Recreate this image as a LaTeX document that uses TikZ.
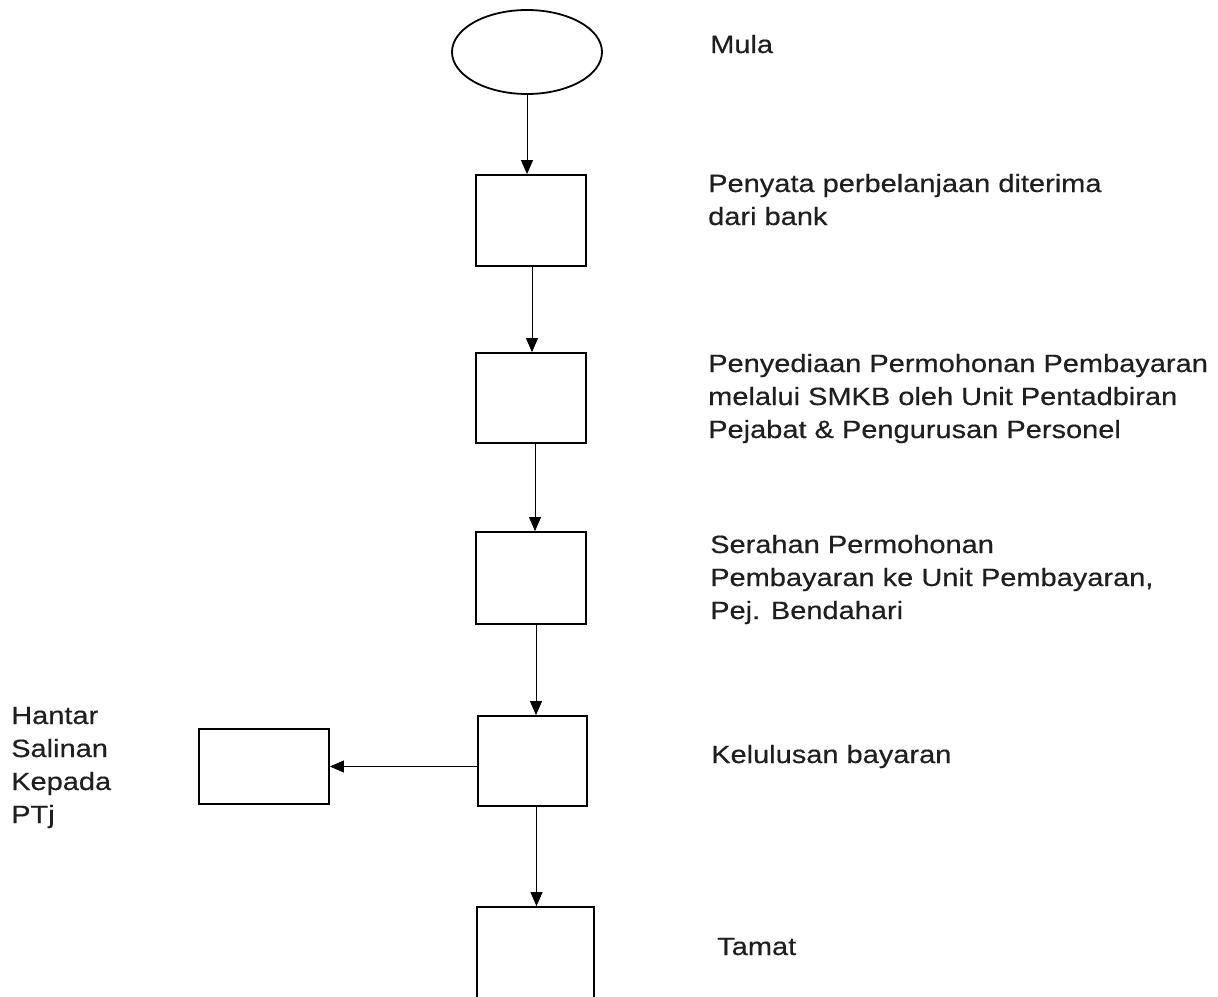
\documentclass[tikz,border=0pt]{standalone}
\usepackage{fontspec}
\setmainfont{Liberation Sans}[FakeStretch=1.16,FakeBold=0.4]
\usetikzlibrary{shapes.geometric,arrows.meta}
\begin{document}
\begin{tikzpicture}[x=1pt,y=-1pt,
  stepbox/.style={draw, line width=1.8pt, rectangle, inner sep=0pt},
  flow/.style={line width=0.8pt, -{Triangle[width=12pt,length=14pt]}},
  lbl/.style={anchor=base west, inner sep=0pt, align=left,
    font=\fontsize{25}{33}\selectfont, text=black!88}]
\clip (0,0) rectangle (1218,996);
\fill[white] (0,0) rectangle (1218,996);
\node[draw, ellipse, line width=1.8pt, minimum width=150pt, minimum height=84pt, inner sep=0pt] (e) at (527,52) {};
\node[stepbox, minimum width=110pt, minimum height=91pt] (b1) at (531,220.5) {};
\node[stepbox, minimum width=110pt, minimum height=90pt] (b2) at (531,398) {};
\node[stepbox, minimum width=110pt, minimum height=92pt] (b3) at (531,578) {};
\node[stepbox, minimum width=109pt, minimum height=90pt] (b4) at (532.5,761) {};
\node[stepbox, minimum width=130pt, minimum height=75pt] (s) at (264,766.5) {};
\node[stepbox, minimum width=117pt, minimum height=120pt] (b5) at (535.5,967) {};
\draw[flow] (e.south) -- (e.south |- b1.north);
\draw[flow] ([xshift=1pt]b1.south) -- ([xshift=1pt]b1.south |- b2.north);
\draw[flow] ([xshift=4pt]b2.south) -- ([xshift=4pt]b2.south |- b3.north);
\draw[flow] ([xshift=5pt]b3.south) -- ([xshift=5pt]b3.south |- b4.north);
\draw[flow] ([xshift=4pt]b4.south) -- ([xshift=4pt]b4.south |- b5.north);
\draw[flow] (b4.west |- s.east) -- (s.east);
\node[lbl] (t0) at (710,53) {Mula};
\node[lbl] (t1) at (708,225) {Penyata perbelanjaan diterima\\dari bank};
\node[lbl] (t2) at (708,438) {Penyediaan Permohonan Pembayaran\\melalui SMKB oleh Unit Pentadbiran\\Pejabat \& Pengurusan Personel};
\node[lbl] (t3) at (710,619) {Serahan Permohonan\\Pembayaran ke Unit Pembayaran,\\Pej. Bendahari};
\node[lbl] (t4) at (711,763) {Kelulusan bayaran};
\node[lbl] (t5) at (717,955) {Tamat};
\node[lbl] (t6) at (11,823) {Hantar\\Salinan\\Kepada\\PTj};
\end{tikzpicture}
\end{document}
